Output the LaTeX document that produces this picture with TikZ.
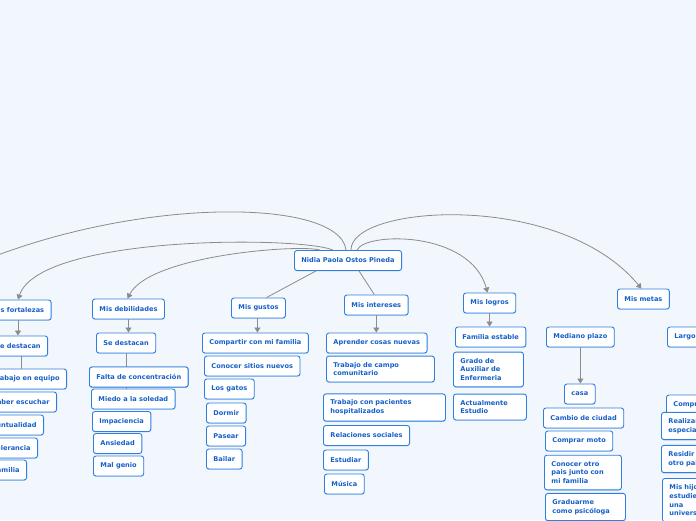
\documentclass[tikz,border=0pt]{standalone}
\usepackage{fontspec}
\setsansfont{DejaVu Sans}
\usetikzlibrary{arrows.meta,shadows}

\definecolor{mapbg}{HTML}{F2F6FD}
\definecolor{boxblue}{HTML}{2E7FE0}
\definecolor{txtblue}{HTML}{1660C9}
\definecolor{linkgray}{HTML}{8C8C8C}

\begin{document}
\begin{tikzpicture}[x=1pt,y=-1pt,
    topic/.style={draw=boxblue, line width=0.9pt, fill=white, rounded corners=2.5pt,
      text=txtblue, font=\sffamily\bfseries\fontsize{6.6}{8.8}\selectfont,
      inner xsep=7pt, inner ysep=6pt, minimum height=20pt, align=left,
      drop shadow={shadow xshift=0pt, shadow yshift=-0.8pt, opacity=0.3, fill=boxblue}},
    link/.style={draw=linkgray, line width=0.8pt},
    linkarrow/.style={link, -{Triangle[length=5pt,width=6pt]}}]

    % Page and background
    \useasboundingbox (0,0) rectangle (696,520);
    \clip (0,0) rectangle (696,520);
    \fill[mapbg] (0,0) rectangle (696,520);

    % --- Central topic ---
    \node[topic] (root) at (348,260.5) {Nidia Paola Ostos Pineda};
    \coordinate (offleft) at (-60,280);

    % --- Mis fortalezas ---
    \node[topic] (fortalezas) at (18,310) {Mis fortalezas};
    \node[topic] (fdestacan) at (18,346) {Se destacan};
    \node[topic, anchor=east] (equipo) at (67,379) {Trabajo en equipo};
    \node[topic, anchor=east] (escuchar) at (57,402) {Saber escuchar};
    \node[topic, anchor=east] (puntual) at (44,425) {Puntualidad};
    \node[topic, anchor=east] (tolerancia) at (38,448) {Tolerancia};
    \node[topic, anchor=east] (familia) at (27,470) {Familia};

    % --- Mis debilidades ---
    \node[topic, anchor=west] (debilidades) at (92,309) {Mis debilidades};
    \node[topic, anchor=west] (ddestacan) at (96,343) {Se destacan};
    \node[topic, anchor=west] (concentra) at (89,377) {Falta de concentración};
    \node[topic, anchor=west] (soledad) at (91,399) {Miedo a la soledad};
    \node[topic, anchor=west] (impaciencia) at (92,421.5) {Impaciencia};
    \node[topic, anchor=west] (ansiedad) at (93,443.5) {Ansiedad};
    \node[topic, anchor=west] (genio) at (93,466) {Mal genio};

    % --- Mis gustos ---
    \node[topic, anchor=west] (gustos) at (231,308) {Mis gustos};
    \node[topic, anchor=west] (compartir) at (202,343) {Compartir con mi familia};
    \node[topic, anchor=west] (sitios) at (204,366) {Conocer sitios nuevos};
    \node[topic, anchor=west] (gatos) at (204,389) {Los gatos};
    \node[topic, anchor=west] (dormir) at (206,413) {Dormir};
    \node[topic, anchor=west] (pasear) at (206,436) {Pasear};
    \node[topic, anchor=west] (bailar) at (206,459) {Bailar};

    % --- Mis intereses ---
    \node[topic, anchor=west] (intereses) at (344,305) {Mis intereses};
    \node[topic, anchor=west] (aprender) at (326,343) {Aprender cosas nuevas};
    \node[topic, anchor=west, text width=94pt] (campo) at (326,369) {Trabajo de campo\\comunitario};
    \node[topic, anchor=west, text width=108pt] (pacientes) at (323,407.5) {Trabajo con pacientes\\hospitalizados};
    \node[topic, anchor=west] (sociales) at (323,435.5) {Relaciones sociales};
    \node[topic, anchor=west] (estudiar) at (323,460) {Estudiar};
    \node[topic, anchor=west] (musica) at (324,484) {Música};

    % --- Mis logros ---
    \node[topic, anchor=west] (logros) at (463,303) {Mis logros};
    \node[topic, anchor=west] (estable) at (455,337) {Familia estable};
    \node[topic, anchor=west, text width=56pt] (grado) at (453,369.5) {Grado de\\Auxiliar de\\Enfermeria};
    \node[topic, anchor=west, text width=59pt] (actual) at (453,407) {Actualmente\\Estudio};

    % --- Mis metas ---
    \node[topic, anchor=west] (metas) at (617,299) {Mis metas};
    \node[topic, anchor=west] (mediano) at (546,337) {Mediano plazo};
    \node[topic, anchor=west] (casa) at (564,394) {casa};
    \node[topic, anchor=west] (ciudad) at (543,418) {Cambio de ciudad};
    \node[topic, anchor=west] (moto) at (545,441) {Comprar moto};
    \node[topic, anchor=west, text width=63pt] (pais) at (544,472.5) {Conocer otro\\pais junto con\\mi familia};
    \node[topic, anchor=west, text width=66pt] (psico) at (545,507) {Graduarme\\como psicóloga};
    \node[topic, anchor=west] (largo) at (667,337) {Largo plazo};
    \node[topic, anchor=west] (ccasa) at (666,405) {Comprar casa};
    \node[topic, anchor=west, text width=70pt] (especial) at (661,426) {Realizar\\especialización};
    \node[topic, anchor=west, text width=70pt] (residir) at (661,459) {Residir en\\otro pais};
    \node[topic, anchor=north west, text width=60pt] (hijos) at (662,478) {Mis hijos\\estudien en\\una\\universidad};

    % --- Curved links from the central topic ---
    \draw[link] ([xshift=-2pt]root.north) .. controls (340,195) and (110,195) .. (offleft);
    \draw[linkarrow] ([xshift=-15pt]root.north) .. controls (300,236) and (40,235) .. (fortalezas.north);
    \draw[linkarrow] ([xshift=-28pt]root.north) .. controls (300,244) and (150,255) .. ([xshift=-1pt]debilidades.north);
    \draw[linkarrow] ([xshift=3pt]root.north) .. controls (350,205) and (560,190) .. ([xshift=-2pt]metas.north);
    \draw[linkarrow] ([xshift=9pt]root.north) .. controls (365,232) and (470,230) .. ([xshift=-2pt]logros.north);

    % --- Straight links ---
    \draw[link] ([xshift=-32pt]root.south) -- ([xshift=8pt]gustos.north);
    \draw[link] ([xshift=11pt]root.south) -- ([xshift=-2pt]intereses.north);
    \draw[link] ([xshift=3pt]fdestacan.south) -- ([xshift=3pt]fdestacan.south |- equipo.north);
    \draw[link] (ddestacan.south) -- (ddestacan.south |- soledad.north);

    % --- Arrows down to the first child ---
    \draw[linkarrow] (fortalezas.south) -- (fdestacan.north);
    \draw[linkarrow] (debilidades.south) -- (debilidades.south |- ddestacan.north);
    \draw[linkarrow] ([xshift=-1pt]gustos.south) -- ([xshift=-1pt]gustos.south |- compartir.north);
    \draw[linkarrow] (intereses.south) -- (intereses.south |- aprender.north);
    \draw[linkarrow] (logros.south) -- (logros.south |- estable.north);
    \draw[linkarrow] (mediano.south) -- (mediano.south |- casa.north);

    % redraw the box that the link passes under
    \node[topic, anchor=west] at (89,377) {Falta de concentración};

\end{tikzpicture}
\end{document}
